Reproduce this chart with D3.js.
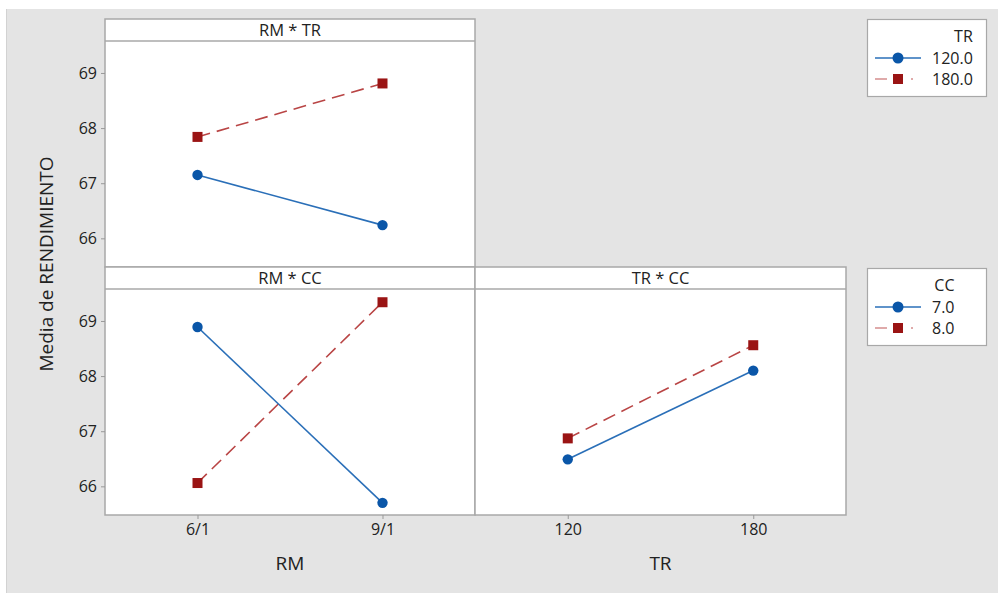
<!DOCTYPE html>
<html>
<head>
<meta charset="utf-8">
<script src="https://cdn.jsdelivr.net/npm/d3@7"></script>
<style>
  body { margin: 0; background: #fff; }
  text { font-family: "Open Sans", "Noto Sans", sans-serif; fill: #222; }
</style>
</head>
<body>
<script>
const width = 998
const height = 593

// data
const rmLevels = ["6/1", "9/1"];
const trLevels = ["120", "180"];
const yTicks = [66, 67, 68, 69];

const rmTr120 = [67.15, 66.24];
const rmTr180 = [67.84, 68.81];
const rmCc7 = [68.89, 65.70];
const rmCc8 = [66.06, 69.34];
const trCc7 = [66.49, 68.10];
const trCc8 = [66.87, 68.56];

const trLegend = ["120.0", "180.0"];
const ccLegend = ["7.0", "8.0"];

const blue = "#0a56a8";
const blueLine = "#2a6fb8";
const red = "#9a1414";
const redLine = "#b94545";

const svg = d3.select("body").append("svg")
    .attr("width", width)
    .attr("height", height);

// gray background
svg.append("rect")
    .attr("x", 6).attr("y", 9)
    .attr("width", width - 6).attr("height", height - 9)
    .attr("fill", "#e4e4e4");
svg.append("line")
    .attr("x1", 6.5).attr("x2", 6.5).attr("y1", 9).attr("y2", height)
    .attr("stroke", "#d2d2d2");

const y = d3.scaleLinear().domain([65.48, 69.58]);

const panels = [
  { title: "RM * TR", x0: 105, x1: 475, top: 19, bottom: 267, cats: rmLevels,
    series: [rmTr120, rmTr180], yAxis: true, xAxis: false },
  { title: "RM * CC", x0: 105, x1: 475, top: 267, bottom: 515, cats: rmLevels,
    series: [rmCc7, rmCc8], yAxis: true, xAxis: true, xTitle: "RM" },
  { title: "TR * CC", x0: 475, x1: 846, top: 267, bottom: 515, cats: trLevels,
    series: [trCc7, trCc8], yAxis: false, xAxis: true, xTitle: "TR" }
];

const headerH = 22;

panels.forEach(p => {
  const g = svg.append("g");
  const plotTop = p.top + headerH;
  const yS = y.copy().range([p.bottom, plotTop]);
  const xS = d3.scalePoint().domain(p.cats).range([p.x0, p.x1]).padding(0.5);

  g.append("rect")
      .attr("x", p.x0).attr("y", p.top)
      .attr("width", p.x1 - p.x0).attr("height", p.bottom - p.top)
      .attr("fill", "#fff").attr("stroke", "#a8a8a8").attr("stroke-width", 1.5);
  g.append("line")
      .attr("x1", p.x0).attr("x2", p.x1)
      .attr("y1", plotTop).attr("y2", plotTop)
      .attr("stroke", "#a8a8a8").attr("stroke-width", 1.5);
  g.append("text")
      .attr("x", (p.x0 + p.x1) / 2).attr("y", p.top + 17)
      .attr("text-anchor", "middle")
      .style("font-size", "16.5px")
      .text(p.title);

  if (p.yAxis) {
    const ax = g.append("g")
        .attr("transform", `translate(${p.x0},0)`)
        .call(d3.axisLeft(yS).tickValues(yTicks).tickFormat(d3.format("d"))
            .tickSize(4).tickPadding(4));
    ax.select(".domain").remove();
    ax.selectAll("line").attr("stroke", "#999");
    ax.selectAll("text").style("font-size", "16px").attr("fill", "#222");
  }
  if (p.xAxis) {
    const ax = g.append("g")
        .attr("transform", `translate(0,${p.bottom})`)
        .call(d3.axisBottom(xS).tickSize(4).tickPadding(5));
    ax.select(".domain").remove();
    ax.selectAll("line").attr("stroke", "#999");
    ax.selectAll("text").style("font-size", "16px").attr("fill", "#222");
    g.append("text")
        .attr("x", (p.x0 + p.x1) / 2).attr("y", 570)
        .attr("text-anchor", "middle")
        .style("font-size", "19px")
        .text(p.xTitle);
  }

  const line = d3.line()
      .x((d, i) => xS(p.cats[i]))
      .y(d => yS(d));

  // second series: red dashed squares
  g.append("path")
      .attr("d", line(p.series[1]))
      .attr("fill", "none").attr("stroke", redLine)
      .attr("stroke-width", 1.6).attr("stroke-dasharray", "13,7");
  g.selectAll(".sq").data(p.series[1]).enter()
      .append("rect")
      .attr("x", (d, i) => xS(p.cats[i]) - 5)
      .attr("y", d => yS(d) - 5)
      .attr("width", 10).attr("height", 10)
      .attr("fill", red);

  // first series: blue solid circles
  g.append("path")
      .attr("d", line(p.series[0]))
      .attr("fill", "none").attr("stroke", blueLine).attr("stroke-width", 1.6);
  g.selectAll(".ci").data(p.series[0]).enter()
      .append("circle")
      .attr("cx", (d, i) => xS(p.cats[i]))
      .attr("cy", d => yS(d))
      .attr("r", 5.2)
      .attr("fill", blue);
});

// y axis title
svg.append("text")
    .attr("transform", "translate(53,264) rotate(-90)")
    .attr("text-anchor", "middle")
    .style("font-size", "19px")
    .text("Media de RENDIMIENTO");

// legends
function legend(top, title, labels) {
  const g = svg.append("g");
  g.append("rect")
      .attr("x", 867.5).attr("y", top + 0.5)
      .attr("width", 119).attr("height", 77)
      .attr("fill", "#fff").attr("stroke", "#a8a8a8").attr("stroke-width", 1.2);
  let labelRight = 932;
  labels.forEach((lab, i) => {
    const yy = top + 39 + i * 21;
    if (i === 0) {
      g.append("line").attr("x1", 875).attr("x2", 921).attr("y1", yy).attr("y2", yy)
          .attr("stroke", blueLine).attr("stroke-width", 1.6);
      g.append("circle").attr("cx", 898).attr("cy", yy).attr("r", 5.5).attr("fill", blue);
    } else {
      g.append("line").attr("x1", 875).attr("x2", 922).attr("y1", yy).attr("y2", yy)
          .attr("stroke", redLine).attr("stroke-opacity", 0.6).attr("stroke-width", 1.6)
          .attr("stroke-dasharray", "12,9,7,8,2");
      g.append("rect").attr("x", 893).attr("y", yy - 5).attr("width", 10).attr("height", 10)
          .attr("fill", red);
    }
    const t = g.append("text")
        .attr("x", 932).attr("y", yy + 6)
        .style("font-size", "16px")
        .text(lab);
    labelRight = Math.max(labelRight, 932 + t.node().getComputedTextLength());
  });
  g.append("text")
      .attr("x", labelRight).attr("y", top + 23)
      .attr("text-anchor", "end")
      .style("font-size", "16px")
      .text(title);
}
legend(19, "TR", trLegend);
legend(268, "CC", ccLegend);
</script>
</body>
</html>
